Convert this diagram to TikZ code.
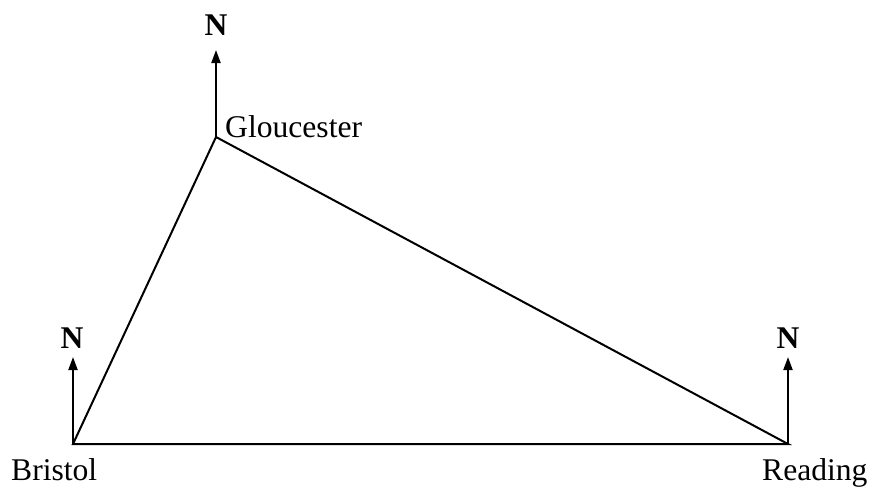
\documentclass[tikz,border=0pt]{standalone}
\usepackage{fontspec}
\setmainfont{Liberation Serif}
\usetikzlibrary{arrows.meta}
\begin{document}
\begin{tikzpicture}[x=1pt,y=-1pt,
  edge/.style={line width=2pt},
  northarrow/.style={line width=2pt,-{Triangle[length=13pt,width=9pt]}},
  place/.style={font=\fontsize{31.6}{36}\selectfont,inner sep=0pt,anchor=base west},
  nlabel/.style={font=\fontsize{31.6}{36}\selectfont\bfseries,inner sep=0pt}]
\useasboundingbox (0,0) rectangle (869,488);
\coordinate (B) at (73,444);
\coordinate (G) at (216,137);
\coordinate (R) at (788,444);
\coordinate (BN) at (73,357);
\coordinate (GN) at (216,50);
\coordinate (RN) at (788,357);
\draw[edge,line join=miter] (G) -- (B) -- (R) -- cycle;
\draw[northarrow] (B) -- (BN);
\draw[northarrow] (G) -- (GN);
\draw[northarrow] (R) -- (RN);
\node[nlabel] (nb) at (72,338) {N};
\node[nlabel] (ng) at (216,25) {N};
\node[nlabel] (nr) at (788,338) {N};
\node[place] (gl) at (225,137) {Gloucester};
\node[place] (br) at (11,480) {Bristol};
\node[place] (re) at (762,480) {Reading};
\end{tikzpicture}
\end{document}
